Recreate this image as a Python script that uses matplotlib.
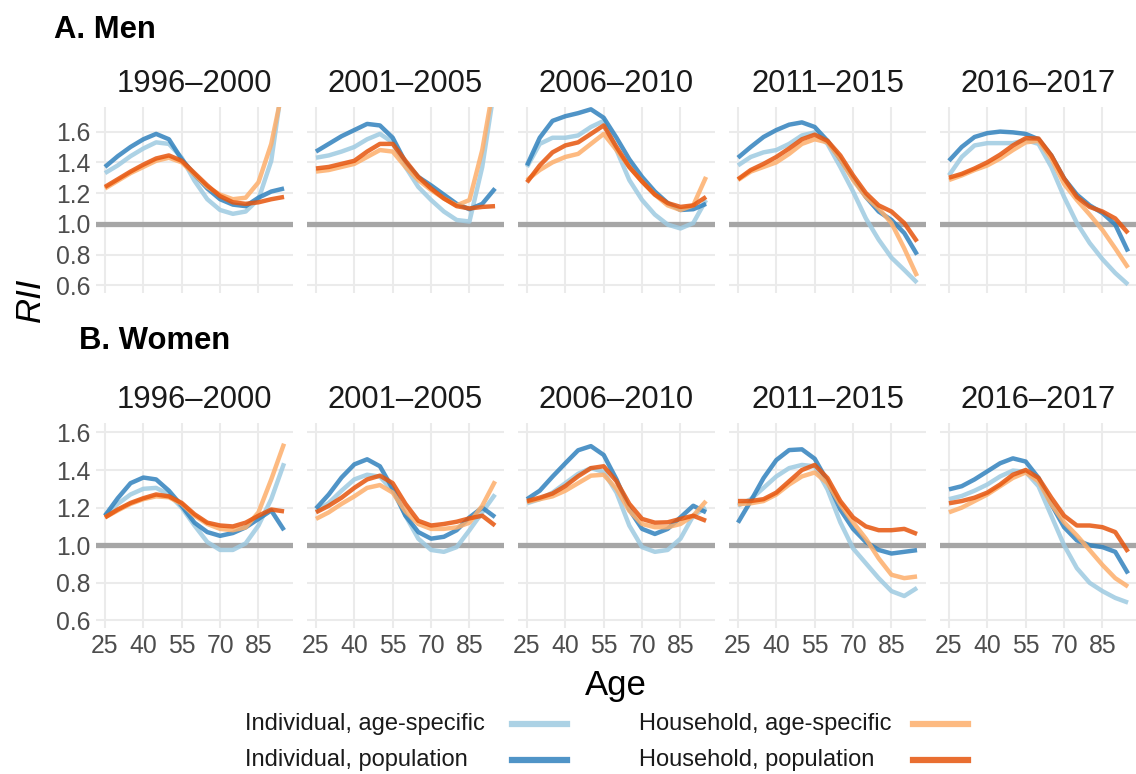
import matplotlib
matplotlib.use("Agg")
import matplotlib.pyplot as plt
from matplotlib.lines import Line2D

plt.rcParams['font.family'] = ['Liberation Sans', 'DejaVu Sans']

ages = [25, 30, 35, 40, 45, 50, 55, 60, 65, 70, 75, 80, 85, 90, 95]
periods = ["1996–2000", "2001–2005", "2006–2010", "2011–2015", "2016–2017"]
series_labels = ["Individual, age-specific", "Individual, population",
                 "Household, age-specific", "Household, population"]

# ---- men (A) ----
m1_ia = [1.33, 1.38, 1.44, 1.49, 1.53, 1.52, 1.43, 1.28, 1.16, 1.09, 1.065, 1.08, 1.16, 1.41, 1.99]
m1_ip = [1.37, 1.44, 1.50, 1.55, 1.585, 1.55, 1.42, 1.32, 1.23, 1.16, 1.125, 1.115, 1.17, 1.21, 1.23]
m1_ha = [1.23, 1.28, 1.33, 1.37, 1.41, 1.43, 1.40, 1.32, 1.24, 1.19, 1.16, 1.17, 1.27, 1.52, 1.92]
m1_hp = [1.24, 1.29, 1.34, 1.385, 1.425, 1.445, 1.41, 1.33, 1.25, 1.18, 1.14, 1.13, 1.14, 1.16, 1.175]

m2_ia = [1.43, 1.445, 1.47, 1.50, 1.55, 1.585, 1.53, 1.37, 1.24, 1.155, 1.08, 1.025, 1.015, 1.37, 1.91]
m2_ip = [1.47, 1.52, 1.57, 1.61, 1.65, 1.64, 1.56, 1.40, 1.305, 1.25, 1.19, 1.13, 1.095, 1.13, 1.23]
m2_ha = [1.34, 1.35, 1.37, 1.39, 1.435, 1.48, 1.47, 1.37, 1.285, 1.22, 1.165, 1.12, 1.155, 1.48, 1.95]
m2_hp = [1.36, 1.37, 1.39, 1.41, 1.47, 1.52, 1.52, 1.41, 1.305, 1.23, 1.165, 1.115, 1.10, 1.11, 1.115]

m3_ia = [1.37, 1.52, 1.56, 1.56, 1.575, 1.63, 1.67, 1.48, 1.285, 1.155, 1.06, 0.995, 0.97, 1.005, 1.155]
m3_ip = [1.38, 1.56, 1.67, 1.70, 1.72, 1.745, 1.69, 1.56, 1.42, 1.305, 1.21, 1.135, 1.09, 1.095, 1.13]
m3_ha = [1.285, 1.35, 1.40, 1.435, 1.455, 1.52, 1.585, 1.48, 1.37, 1.275, 1.19, 1.12, 1.09, 1.12, 1.305]
m3_hp = [1.27, 1.38, 1.465, 1.51, 1.53, 1.585, 1.64, 1.50, 1.37, 1.275, 1.19, 1.135, 1.11, 1.12, 1.175]

m4_ia = [1.38, 1.435, 1.465, 1.48, 1.52, 1.575, 1.595, 1.52, 1.37, 1.21, 1.035, 0.897, 0.78, 0.70, 0.617]
m4_ip = [1.43, 1.50, 1.565, 1.61, 1.645, 1.66, 1.63, 1.54, 1.42, 1.295, 1.175, 1.08, 1.025, 0.94, 0.80]
m4_ha = [1.285, 1.34, 1.37, 1.40, 1.455, 1.52, 1.55, 1.53, 1.42, 1.285, 1.175, 1.10, 1.005, 0.84, 0.66]
m4_hp = [1.29, 1.35, 1.39, 1.435, 1.49, 1.55, 1.58, 1.54, 1.445, 1.315, 1.20, 1.12, 1.08, 1.005, 0.885]

m5_ia = [1.315, 1.435, 1.51, 1.525, 1.525, 1.525, 1.545, 1.52, 1.37, 1.175, 1.005, 0.875, 0.77, 0.68, 0.605]
m5_ip = [1.41, 1.50, 1.565, 1.59, 1.60, 1.595, 1.585, 1.55, 1.445, 1.295, 1.19, 1.12, 1.07, 0.995, 0.82]
m5_ha = [1.285, 1.315, 1.35, 1.38, 1.425, 1.48, 1.53, 1.54, 1.425, 1.26, 1.155, 1.06, 0.96, 0.84, 0.715]
m5_hp = [1.30, 1.325, 1.36, 1.40, 1.45, 1.51, 1.557, 1.555, 1.445, 1.295, 1.175, 1.11, 1.08, 1.035, 0.94]

# ---- women (B) ----
w1_ia = [1.157, 1.22, 1.27, 1.30, 1.305, 1.27, 1.20, 1.105, 1.017, 0.975, 0.975, 1.01, 1.105, 1.245, 1.436]
w1_ip = [1.157, 1.25, 1.33, 1.36, 1.35, 1.29, 1.21, 1.12, 1.07, 1.05, 1.065, 1.095, 1.14, 1.185, 1.08]
w1_ha = [1.148, 1.185, 1.22, 1.245, 1.26, 1.255, 1.22, 1.157, 1.113, 1.087, 1.08, 1.095, 1.175, 1.35, 1.54]
w1_hp = [1.148, 1.19, 1.225, 1.25, 1.27, 1.26, 1.225, 1.165, 1.12, 1.105, 1.10, 1.12, 1.157, 1.19, 1.18]

w2_ia = [1.18, 1.225, 1.29, 1.35, 1.375, 1.365, 1.29, 1.157, 1.035, 0.975, 0.965, 0.99, 1.08, 1.175, 1.27]
w2_ip = [1.195, 1.27, 1.36, 1.43, 1.457, 1.42, 1.30, 1.157, 1.07, 1.035, 1.045, 1.08, 1.148, 1.20, 1.15]
w2_ha = [1.14, 1.175, 1.22, 1.26, 1.305, 1.32, 1.28, 1.18, 1.113, 1.087, 1.087, 1.095, 1.12, 1.21, 1.34]
w2_hp = [1.175, 1.21, 1.253, 1.305, 1.35, 1.37, 1.33, 1.22, 1.13, 1.105, 1.113, 1.125, 1.143, 1.157, 1.105]

w3_ia = [1.223, 1.245, 1.28, 1.33, 1.38, 1.41, 1.39, 1.28, 1.105, 0.99, 0.965, 0.975, 1.035, 1.157, 1.20]
w3_ip = [1.245, 1.29, 1.365, 1.436, 1.505, 1.527, 1.48, 1.35, 1.19, 1.087, 1.06, 1.087, 1.148, 1.21, 1.175]
w3_ha = [1.23, 1.245, 1.26, 1.29, 1.33, 1.37, 1.375, 1.30, 1.183, 1.113, 1.096, 1.096, 1.113, 1.157, 1.235]
w3_hp = [1.235, 1.253, 1.275, 1.315, 1.367, 1.41, 1.42, 1.34, 1.22, 1.14, 1.12, 1.122, 1.14, 1.157, 1.13]

w4_ia = [1.21, 1.245, 1.305, 1.366, 1.41, 1.427, 1.42, 1.297, 1.122, 0.983, 0.904, 0.825, 0.756, 0.73, 0.773]
w4_ip = [1.12, 1.235, 1.357, 1.453, 1.506, 1.51, 1.46, 1.34, 1.19, 1.087, 1.017, 0.975, 0.956, 0.965, 0.974]
w4_ha = [1.218, 1.223, 1.235, 1.27, 1.323, 1.366, 1.387, 1.33, 1.218, 1.122, 1.035, 0.93, 0.843, 0.825, 0.834]
w4_hp = [1.235, 1.235, 1.245, 1.28, 1.34, 1.40, 1.427, 1.357, 1.235, 1.148, 1.10, 1.08, 1.08, 1.087, 1.06]

w5_ia = [1.245, 1.262, 1.29, 1.323, 1.366, 1.397, 1.39, 1.314, 1.157, 1.0, 0.878, 0.80, 0.756, 0.72, 0.695]
w5_ip = [1.297, 1.314, 1.35, 1.393, 1.436, 1.462, 1.445, 1.358, 1.218, 1.096, 1.026, 1.0, 0.99, 0.965, 0.85]
w5_ha = [1.175, 1.20, 1.235, 1.27, 1.314, 1.358, 1.387, 1.34, 1.218, 1.122, 1.052, 0.974, 0.895, 0.825, 0.78]
w5_hp = [1.223, 1.235, 1.253, 1.28, 1.323, 1.375, 1.40, 1.358, 1.253, 1.157, 1.105, 1.105, 1.096, 1.07, 0.965]

men = [[m1_ia, m1_ip, m1_ha, m1_hp], [m2_ia, m2_ip, m2_ha, m2_hp], [m3_ia, m3_ip, m3_ha, m3_hp],
       [m4_ia, m4_ip, m4_ha, m4_hp], [m5_ia, m5_ip, m5_ha, m5_hp]]
women = [[w1_ia, w1_ip, w1_ha, w1_hp], [w2_ia, w2_ip, w2_ha, w2_hp], [w3_ia, w3_ip, w3_ha, w3_hp],
         [w4_ia, w4_ip, w4_ha, w4_hp], [w5_ia, w5_ip, w5_ha, w5_hp]]

colors = ["#9ecae1", "#3182bd", "#fdae6b", "#e6550d"]
x_ticks = [25, 40, 55, 70, 85]
y_ticks = [0.6, 0.8, 1.0, 1.2, 1.4, 1.6]

W, H = 1136, 774
fig = plt.figure(figsize=(W / 100, H / 100), dpi=100)


def draw_row(rows, top_px, bottom_px, ylim, show_x):
    for i, panel in enumerate(rows):
        left = 96 + 211 * i
        ax = fig.add_axes([left / W, (H - bottom_px) / H, 197 / W, (bottom_px - top_px) / H])
        ax.set_xlim(21.5, 98.5)
        ax.set_ylim(*ylim)
        ax.set_xticks(x_ticks)
        ax.set_yticks(y_ticks)
        ax.grid(True, color="#ebebeb", lw=1.5, zorder=0)
        ax.set_axisbelow(True)
        for s in ax.spines.values():
            s.set_visible(False)
        ax.tick_params(length=0, labelsize=17.8, labelcolor="#4d4d4d", pad=4)
        ax.axhline(1.0, color="#a6a6a6", lw=3.8, zorder=1)
        for vals, c in zip(panel, colors):
            ax.plot(ages, vals, color=c, alpha=0.85, lw=3.2, solid_capstyle="butt",
                    solid_joinstyle="round", zorder=2)
        if i > 0:
            ax.set_yticklabels([])
        else:
            ax.set_yticklabels(["0.6", "0.8", "1.0", "1.2", "1.4", "1.6"])
        if not show_x:
            ax.set_xticklabels([])
        ax.text(0.5, 1 + 23 / (bottom_px - top_px), periods[i], transform=ax.transAxes,
                ha="center", va="center", fontsize=22.3, color="#1a1a1a")


draw_row(men, 107, 293, (0.55, 1.76), False)
draw_row(women, 423, 628, (0.56, 1.65), True)

fig.text(54 / W, 1 - 30 / H, "A. Men", fontsize=22.3, fontweight="bold", ha="left", va="center")
fig.text(79 / W, 1 - 341 / H, "B. Women", fontsize=22.3, fontweight="bold", ha="left", va="center")
fig.text(30 / W, 1 - 300 / H, "RII", fontsize=25, style="italic", rotation=90, ha="center", va="center")
fig.text(616 / W, 1 - 685 / H, "Age", fontsize=25, ha="center", va="center")

# legend: labels left of the keys, two columns
leg_pos = [(245, 512, 724), (245, 512, 760), (639, 913, 724), (639, 913, 760)]
for (tx, kx, ky), lab, c in zip(leg_pos, series_labels, colors):
    fig.text(tx / W, 1 - ky / H, lab, fontsize=17, color="#1a1a1a", ha="left", va="center")
    fig.add_artist(Line2D([kx / W, (kx + 55) / W], [1 - ky / H, 1 - ky / H],
                          color=c, alpha=0.85, lw=4.5, transform=fig.transFigure))

fig.savefig("out.png", dpi=100)
